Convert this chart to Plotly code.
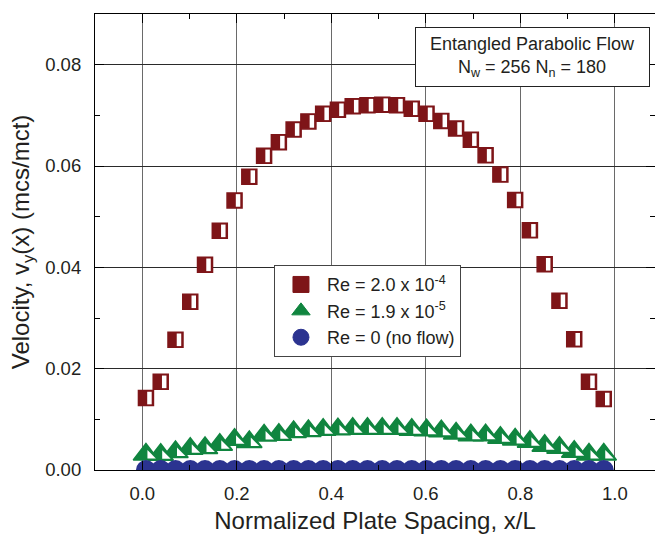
import plotly.graph_objects as go

# ---- data ----
N_BINS = 32
x_pos = [(i + 0.25) / N_BINS for i in range(N_BINS)]

v_re_2e4 = [0.0142, 0.0174, 0.0257, 0.0332, 0.0405, 0.0472, 0.0532, 0.0579,
            0.0620, 0.0647, 0.0672, 0.0688, 0.0703, 0.0711, 0.0718, 0.0720,
            0.0721, 0.0720, 0.0713, 0.0703, 0.0689, 0.0674, 0.0652, 0.0621,
            0.0583, 0.0533, 0.0473, 0.0406, 0.0334, 0.0258, 0.0174, 0.0140]

v_re_19e5 = [0.00307, 0.00301, 0.00354, 0.00420, 0.00433, 0.00499, 0.00597, 0.00552,
             0.00682, 0.00696, 0.00750, 0.00770, 0.00795, 0.00805, 0.00815, 0.00815,
             0.00815, 0.00815, 0.00795, 0.00786, 0.00766, 0.00721, 0.00687, 0.00687,
             0.00636, 0.00602, 0.00556, 0.00477, 0.00438, 0.00359, 0.00307, 0.00307]

v_re_0 = [0.0] * N_BINS

series_names = ["Re = 2.0 x 10<sup>-4</sup>", "Re = 1.9 x 10<sup>-5</sup>", "Re = 0 (no flow)"]
x_ticks = [0.0, 0.2, 0.4, 0.6, 0.8, 1.0]
y_ticks = [0.00, 0.02, 0.04, 0.06, 0.08]

# ---- style ----
RED = "#7e1518"
GREEN = "#10853f"
BLUE = "#2b3390"
FONT = "Liberation Sans, Arial, sans-serif"
TXT = "#231f20"
BAR_DX = 0.0074      # offset of the white bar inside each square (~3.5px)
NOTCH_DX = 0.0091    # offset of the white half inside each triangle (~4.3px)
NOTCH_DY = -0.00023  # (~1.2px)


def interleave(xs, ys, dx, main, accent):
    X, Y, sym, col, size, lc, lw = [], [], [], [], [], [], []
    for x, y in zip(xs, ys):
        for d, st in ((0.0, main), (dx, accent)):
            X.append(x + d)
            Y.append(y)
            sym.append(st["symbol"])
            col.append(st["color"])
            size.append(st["size"])
            lc.append(st["lc"])
            lw.append(st["lw"])
    return X, Y, dict(symbol=sym, color=col, size=size, opacity=1,
                      line=dict(color=lc, width=lw))


fig = go.Figure()

# red half-filled squares
X, Y, mk = interleave(x_pos, v_re_2e4, BAR_DX,
                      dict(symbol="square", color=RED, size=15, lc=RED, lw=1.5),
                      dict(symbol="line-ns", color="white", size=9, lc="white", lw=4.5))
fig.add_trace(go.Scatter(x=X, y=Y, mode="markers", marker=mk, showlegend=False, hoverinfo="skip"))

# green half-filled triangles: filled triangles, then white right halves on top
fig.add_trace(go.Scatter(x=x_pos, y=v_re_19e5, mode="markers",
                         marker=dict(symbol="triangle-up", color=GREEN, size=22, opacity=1,
                                     line=dict(color=GREEN, width=1.5)),
                         showlegend=False, hoverinfo="skip"))
fig.add_trace(go.Scatter(x=[x + NOTCH_DX for x in x_pos], y=[v + NOTCH_DY for v in v_re_19e5],
                         mode="markers",
                         marker=dict(symbol="triangle-sw", color="white", size=9.4, opacity=1,
                                     line=dict(width=0)),
                         showlegend=False, hoverinfo="skip"))

# blue circles
fig.add_trace(go.Scatter(x=x_pos, y=v_re_0, mode="markers",
                         marker=dict(symbol="circle", color=BLUE, size=20, opacity=1, line=dict(width=0)),
                         showlegend=False, hoverinfo="skip", cliponaxis=True))

# legend entries
for name, sym, c in zip(series_names, ["square", "triangle-up", "circle"], [RED, GREEN, BLUE]):
    fig.add_trace(go.Scatter(x=[None], y=[None], mode="markers", name=name,
                             marker=dict(symbol=sym, color=c, size=16, opacity=1,
                                         line=dict(color=c, width=1))))

fig.update_layout(
    width=655, height=534,
    margin=dict(l=95, r=0, t=14, b=64),
    paper_bgcolor="white", plot_bgcolor="white",
    font=dict(family=FONT, color=TXT, size=18),
    legend=dict(x=0.3196, y=0.449, xanchor="left", yanchor="top",
                bordercolor="#444", borderwidth=1, bgcolor="white", itemwidth=42,
                font=dict(size=18, family=FONT, color=TXT), tracegroupgap=0),
    annotations=[dict(
        text="Entangled Parabolic Flow<br>N<sub>w</sub> = 256 N<sub>n</sub> = 180",
        xref="paper", yref="paper", x=0.781, y=0.906, xanchor="center", yanchor="middle",
        showarrow=False, align="center", font=dict(size=18, family=FONT, color=TXT),
        bordercolor="#222", borderwidth=1, bgcolor="white", width=229, height=54, borderpad=2)],
)

fig.update_xaxes(
    range=[-0.1, 1.085], tickvals=x_ticks, ticktext=[f"{v:.1f}" for v in x_ticks],
    showgrid=True, gridcolor="#6a6a6a", gridwidth=1, zeroline=False,
    showline=True, linecolor="black", linewidth=1.2, mirror="ticks",
    ticks="inside", ticklen=9, tickcolor="black", tickwidth=1.2,
    minor=dict(ticks="inside", ticklen=5, dtick=0.1, tick0=0, tickcolor="black", showgrid=False),
    ticklabelstandoff=7, tickfont=dict(size=18.5),
    title=dict(text="Normalized Plate Spacing, x/L", font=dict(size=24), standoff=9),
)
fig.update_yaxes(
    range=[0, 0.09], tickvals=y_ticks, ticktext=[f"{v:.2f}" for v in y_ticks],
    showgrid=True, gridcolor="#2a2a2a", gridwidth=1, zeroline=False,
    showline=True, linecolor="black", linewidth=1.2, mirror="ticks",
    ticks="inside", ticklen=9, tickcolor="black", tickwidth=1.2,
    minor=dict(ticks="inside", ticklen=5, dtick=0.01, tick0=0, tickcolor="black", showgrid=False),
    ticklabelstandoff=9, tickfont=dict(size=18.5),
    title=dict(text="Velocity, v<sub>y</sub>(x) (mcs/mct)", font=dict(size=24), standoff=8),
)

fig.write_html("out.html")
